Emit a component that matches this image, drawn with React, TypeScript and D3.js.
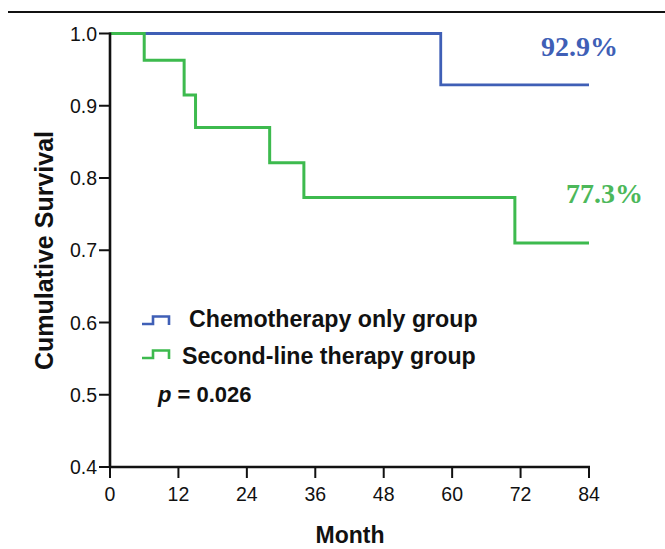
import React from "react";
import * as d3 from "d3";

const monthTicks = [0, 12, 24, 36, 48, 60, 72, 84];
const survivalTicks = [0.4, 0.5, 0.6, 0.7, 0.8, 0.9, 1.0];

const chemoMonths = [0, 58, 84];
const chemoSurvival = [1.0, 0.929, 0.929];

const secondMonths = [0, 6, 13, 15, 28, 34, 71, 84];
const secondSurvival = [1.0, 0.963, 0.915, 0.87, 0.821, 0.773, 0.71, 0.71];

const legendLabels = ["Chemotherapy only group", "Second-line therapy group"];
const pValueText = "0.026";
const endLabels = ["92.9%", "77.3%"];

const BLUE = "#3f5fb6";
const GREEN = "#3dba4e";
const SANS = "'Liberation Sans', Arial, sans-serif";
const SERIF = "'Liberation Serif', 'Times New Roman', serif";

export default function App() {
  const W = 665;
  const H = 549;
  const x = d3.scaleLinear().domain([0, 84]).range([110, 589]);
  const y = d3.scaleLinear().domain([0.4, 1.0]).range([467, 33.5]);

  const line = d3
    .line<[number, number]>()
    .x((d) => x(d[0]))
    .y((d) => y(d[1]))
    .curve(d3.curveStepAfter);

  const chemoPath = line(chemoMonths.map((m, i) => [m, chemoSurvival[i]]))!;
  const secondPath = line(secondMonths.map((m, i) => [m, secondSurvival[i]]))!;

  const axisW = 2.6;

  return (
    <svg
      width={W}
      height={H}
      style={{ position: "absolute", left: 0, top: 0, background: "#fff" }}
    >
      <rect x={0} y={0} width={W} height={H} fill="#fff" />
      {/* top rule */}
      <line x1={8} x2={665} y1={12} y2={12} stroke="#111" strokeWidth={2.2} />

      {/* curves */}
      <path d={chemoPath} fill="none" stroke={BLUE} strokeWidth={2.8} />
      <path d={secondPath} fill="none" stroke={GREEN} strokeWidth={3} />

      {/* y axis */}
      <line x1={x(0)} x2={x(0)} y1={y(1.0) - 1} y2={y(0.4) + 1} stroke="#111" strokeWidth={axisW} />
      {survivalTicks.map((t) => (
        <g key={t}>
          <line x1={x(0) - 11} x2={x(0)} y1={y(t)} y2={y(t)} stroke="#111" strokeWidth={2} />
          <text
            x={x(0) - 13}
            y={y(t) + 7}
            textAnchor="end"
            fontFamily={SANS}
            fontSize={19.5}
            fill="#111"
          >
            {t.toFixed(1)}
          </text>
        </g>
      ))}

      {/* x axis */}
      <line x1={x(0) - 1} x2={x(84) + 1} y1={y(0.4)} y2={y(0.4)} stroke="#111" strokeWidth={axisW} />
      {monthTicks.map((t) => (
        <g key={t}>
          <line x1={x(t)} x2={x(t)} y1={y(0.4)} y2={y(0.4) + 11} stroke="#111" strokeWidth={2} />
          <text x={x(t)} y={501} textAnchor="middle" fontFamily={SANS} fontSize={19.5} fill="#111">
            {t}
          </text>
        </g>
      ))}

      {/* axis titles */}
      <text
        x={350}
        y={543}
        textAnchor="middle"
        fontFamily={SANS}
        fontWeight="bold"
        fontSize={23}
        fill="#111"
      >
        Month
      </text>
      <text
        transform={`translate(53, 250.5) rotate(-90)`}
        textAnchor="middle"
        fontFamily={SANS}
        fontWeight="bold"
        fontSize={25}
        fill="#111"
      >
        Cumulative Survival
      </text>

      {/* legend */}
      <path d="M142,324 H153 V316.5 H169 V325" fill="none" stroke={BLUE} strokeWidth={2.6} />
      <text x={189} y={326.5} fontFamily={SANS} fontWeight="bold" fontSize={23.2} fill="#111">
        {legendLabels[0]}
      </text>
      <path d="M142,358 H153 V350.5 H169 V359" fill="none" stroke={GREEN} strokeWidth={2.6} />
      <text x={182} y={363.5} fontFamily={SANS} fontWeight="bold" fontSize={23.2} fill="#111">
        {legendLabels[1]}
      </text>
      <text x={158} y={401.5} fontFamily={SANS} fontWeight="bold" fontSize={22} fill="#111">
        <tspan fontStyle="italic">p</tspan>
        {` = ${pValueText}`}
      </text>

      {/* end labels */}
      <text x={541} y={56} fontFamily={SERIF} fontWeight="bold" fontSize={28} fill={BLUE}>
        {endLabels[0]}
      </text>
      <text x={566} y={203} fontFamily={SERIF} fontWeight="bold" fontSize={28} fill="#4cb85a">
        {endLabels[1]}
      </text>
    </svg>
  );
}
